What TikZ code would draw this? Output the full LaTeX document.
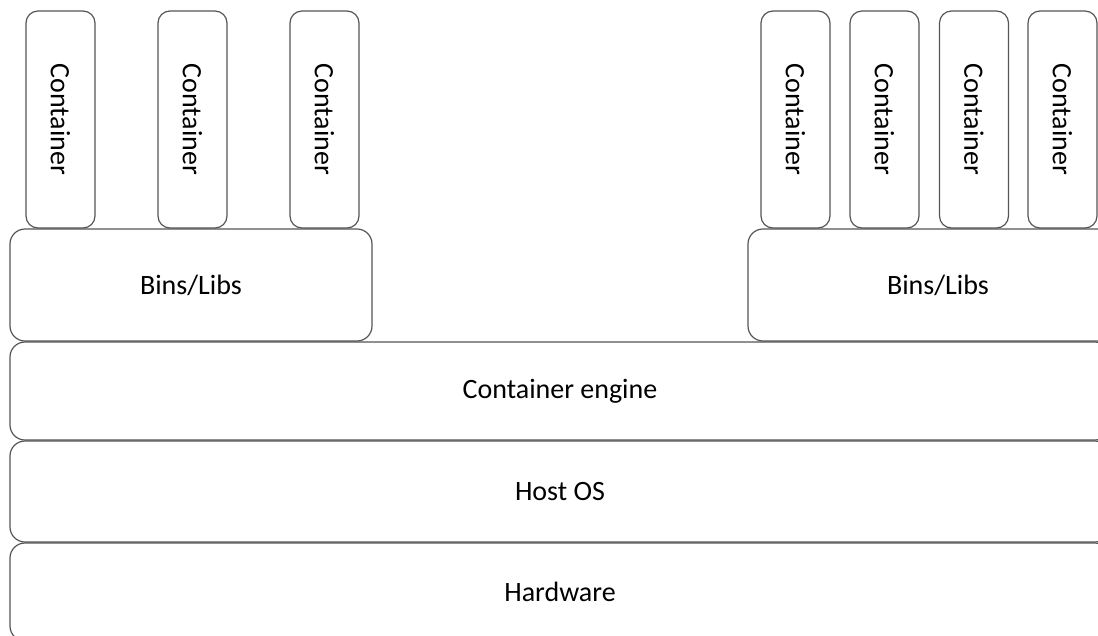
\documentclass[tikz,border=0pt]{standalone}
\usepackage{fontspec}
\setmainfont{Carlito}
\usetikzlibrary{positioning}
\definecolor{boxLine}{RGB}{85,85,85}
\tikzset{
  layer/.style={draw=boxLine, line width=1.2pt, rounded corners=15pt,
    inner sep=0pt, font=\fontsize{28}{32}\selectfont},
  cont/.style={layer, rounded corners=12pt, rotate=-90,
    minimum width=217pt, minimum height=69pt}
}
\begin{document}
\begin{tikzpicture}[x=1pt,y=-1pt]
  \useasboundingbox (0,0) rectangle (1098,635);
  \clip (0,0) rectangle (1098,635);
  % Untere Schichten (rechts abgeschnitten)
  \node[layer, minimum width=1100pt, minimum height=98pt]  (hw)     at (560,592)   {Hardware};
  \node[layer, minimum width=1100pt, minimum height=101pt] (hostos) at (560,491.5) {Host OS};
  \node[layer, minimum width=1100pt, minimum height=98pt]  (engine) at (560,391)   {Container engine};
  % Bibliotheken
  \node[layer, minimum width=362pt, minimum height=112pt] (libsL) at (191,285) {Bins/Libs};
  \node[layer, minimum width=380pt, minimum height=112pt] (libsR) at (938,285) {Bins/Libs};
  % Container links
  \foreach \cx [count=\i] in {60.5,192.5,324.5}
    \node[cont] (contL\i) at (\cx,119.5) {Container};
  % Container rechts
  \foreach \cx [count=\i] in {795.5,884.5,974,1062.5}
    \node[cont] (contR\i) at (\cx,119.5) {Container};
\end{tikzpicture}
\end{document}
